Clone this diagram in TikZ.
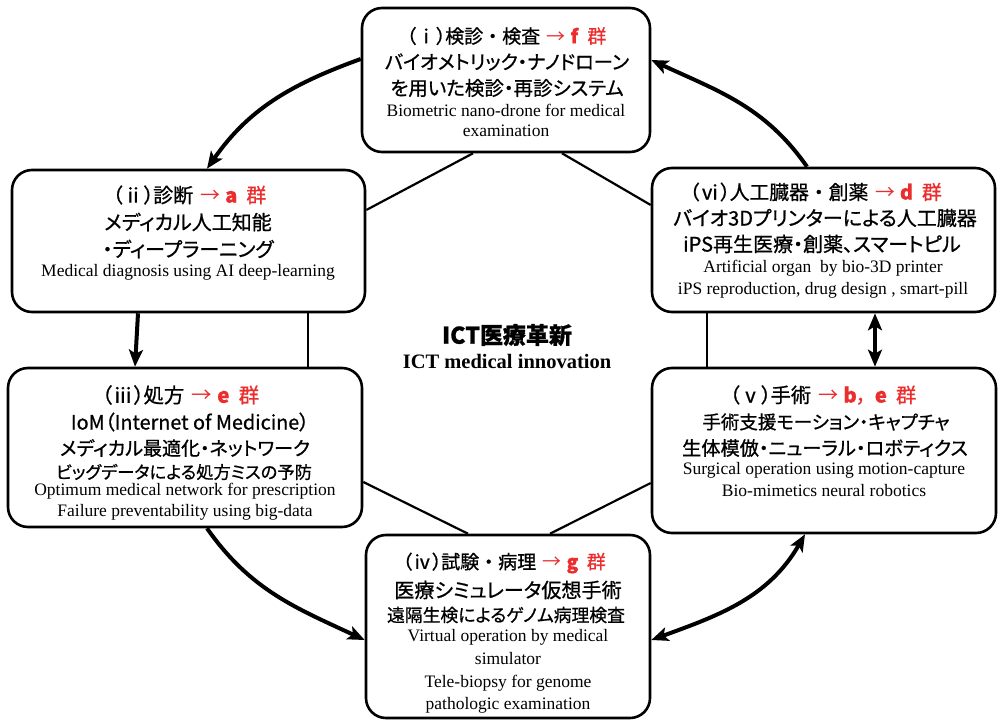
\documentclass[tikz,border=0pt]{standalone}
\usepackage{fontspec}
\setmainfont{Liberation Serif}
\newfontfamily\jp{Noto Sans CJK JP}[FakeBold=0.8]
\newfontfamily\jpp{Noto Sans CJK JP}[FakeBold=0.8,RawFeature=+palt]
\newfontfamily\arr{Noto Sans CJK JP}
\newfontfamily\enf{Liberation Serif}
\usetikzlibrary{arrows.meta}
\definecolor{jred}{RGB}{235,45,45}
\newcommand{\ttlx}[3]{{\jp（#1）\kern-0.5em #2}\hspace{0.35em}{\color{jred}{\arr →}\hspace{0.25em}#3\hspace{0.45em}群}}
\tikzset{
  box/.style={draw, line width=2.6pt, rounded corners=20pt, fill=white, inner sep=0pt},
  hexline/.style={line width=2.2pt},
  flow/.style={line width=4pt, -{Stealth[length=17pt,width=14pt,inset=4pt]}},
  bflow/.style={line width=4pt, {Stealth[length=17pt,width=14pt,inset=4pt]}-{Stealth[length=17pt,width=14pt,inset=4pt]}},
  jp/.style={font=\jpp\fontsize{#1}{#1}\selectfont, inner sep=0pt},
  ttl/.style={font=\jp\fontsize{#1}{#1}\selectfont, inner sep=0pt, anchor=west},
  en/.style={font=\enf\fontsize{17.5}{20}\selectfont, inner sep=0pt},
}
\begin{document}
\begin{tikzpicture}[x=1pt,y=-1pt]
\useasboundingbox (0,0) rectangle (998,722);
% boxes
\node[box, minimum width=288pt, minimum height=144pt] (bi)   at (506,80) {};
\node[box, minimum width=353pt, minimum height=142pt] (bii)  at (188.5,241) {};
\node[box, minimum width=343pt, minimum height=144pt] (bvi)  at (823.5,240) {};
\node[box, minimum width=354pt, minimum height=159pt] (biii) at (185,447.5) {};
\node[box, minimum width=344pt, minimum height=165pt] (bv)   at (824,450.5) {};
\node[box, minimum width=284pt, minimum height=183pt] (biv)  at (508,626.5) {};
% hexagon lines
\draw[hexline] ([xshift=-33pt]bi.south) -- ([yshift=31pt]bii.east);
\draw[hexline] ([xshift=56pt]bi.south) -- ([yshift=35pt]bvi.west);
\draw[hexline] ([xshift=119.5pt]bii.south) -- ([xshift=119.5pt]bii.south |- biii.north);
\draw[hexline] ([xshift=-116.5pt]bvi.south) -- ([xshift=-116.5pt]bvi.south |- bv.north);
\draw[hexline] ([yshift=-34.5pt]biii.east) -- ([xshift=-40pt]biv.north);
\draw[hexline] ([yshift=-32.5pt]bv.west) -- ([xshift=42pt]biv.north);
% flow arrows
\draw[flow] ([yshift=21pt]bi.west) to[out=200,in=55] ([xshift=18.5pt]bii.north);
\draw[flow] ([xshift=-16.5pt]bvi.north) to[out=125,in=-25] ([yshift=20pt]bi.east);
\draw[flow] ([xshift=-50.5pt]bii.south) -- ([xshift=-50pt]biii.north);
\draw[bflow] ([xshift=51.5pt]bvi.south) -- ([xshift=51.5pt]bvi.south |- bv.north);
\draw[flow] ([xshift=22pt]biii.south) to[out=-55,in=155] ([yshift=-13.5pt]biv.west);
\draw[bflow] ([yshift=-13.5pt]biv.east) to[out=20,in=240] ([xshift=-19pt]bv.south);
% box i
\node[ttl=19] (ti1) at (397.5,36) {\ttlx{ⅰ}{検診・検査}{\textbf{f}}};
\node[jp=19.3] (ti2) at (507,62) {バイオメトリック・ナノドローン};
\node[jp=19.5] (ti3) at (507,88) {を用いた検診・再診システム};
\node[en] (ti4) at (506,110) {Biometric nano-drone for medical};
\node[en] (ti5) at (506,131) {examination};
% box ii
\node[ttl=20] (tii1) at (103,195) {\ttlx{ⅱ}{診断}{\textbf{a}}};
\node[jp=20] (tii2) at (188,222) {メディカル人工知能};
\node[jp=20] (tii3) at (188,249) {・ディープラーニング};
\node[en] (tii4) at (188,272) {Medical diagnosis using AI deep-learning};
% box vi
\node[ttl=19.8] (tvi1) at (680,192) {\ttlx{ⅵ}{人工臓器・創薬}{\textbf{d}}};
\node[jp=20] (tvi2) at (825,218) {バイオ3Dプリンターによる人工臓器};
\node[jp=20] (tvi3) at (822,244) {iPS再生医療・創薬、スマートピル};
\node[en] (tvi4) at (823,268) {Artificial organ\ \ by bio-3D printer};
\node[en] (tvi5) at (823,290) {iPS reproduction, drug design , smart-pill};
% box iii
\node[ttl=20.5] (tiii1) at (92,395) {\ttlx{ⅲ}{処方}{\textbf{e}}};
\node[jp=19.8] (tiii2) at (190,422) {IoM（Internet of Medicine）};
\node[jp=19] (tiii3) at (185,448) {メディカル最適化・ネットワーク};
\node[jp=17.3] (tiii4) at (184,472) {ビッグデータによる処方ミスの予防};
\node[en] (tiii5) at (185,491) {Optimum medical network for prescription};
\node[en] (tiii6) at (185,512) {Failure preventability using big-data};
% box v
\node[ttl=20.2] (tv1) at (720,395) {\ttlx{ⅴ}{手術}{\textbf{b}{\jpp ，}\hspace{0.4em}\textbf{e}}};
\node[jp=18.5] (tv2) at (826,422) {手術支援モーション・キャプチャ};
\node[jp=19.2] (tv3) at (825,448) {生体模倣・ニューラル・ロボティクス};
\node[en] (tv4) at (824,470) {Surgical operation using motion-capture};
\node[en] (tv5) at (824,491) {Bio-mimetics neural robotics};
% box iv
\node[ttl=19] (tiv1) at (393.5,563) {\ttlx{ⅳ}{試験・病理}{\textbf{g}}};
\node[jp=20.1] (tiv2) at (508,590) {医療シミュレータ仮想手術};
\node[jp=17.8] (tiv3) at (506,615) {遠隔生検によるゲノム病理検査};
\node[en] (tiv4) at (508,637) {Virtual operation by medical};
\node[en] (tiv5) at (508,659) {simulator};
\node[en] (tiv6) at (508,683) {Tele-biopsy for genome};
\node[en] (tiv7) at (508,705) {pathologic examination};
% center
\node[font=\jp\bfseries\fontsize{23}{23}\selectfont, inner sep=0pt] (c1) at (507,335) {ICT医療革新};
\node[font=\enf\bfseries\fontsize{20.5}{22}\selectfont, inner sep=0pt] (c2) at (507,361) {ICT medical innovation};
\end{tikzpicture}
\end{document}
